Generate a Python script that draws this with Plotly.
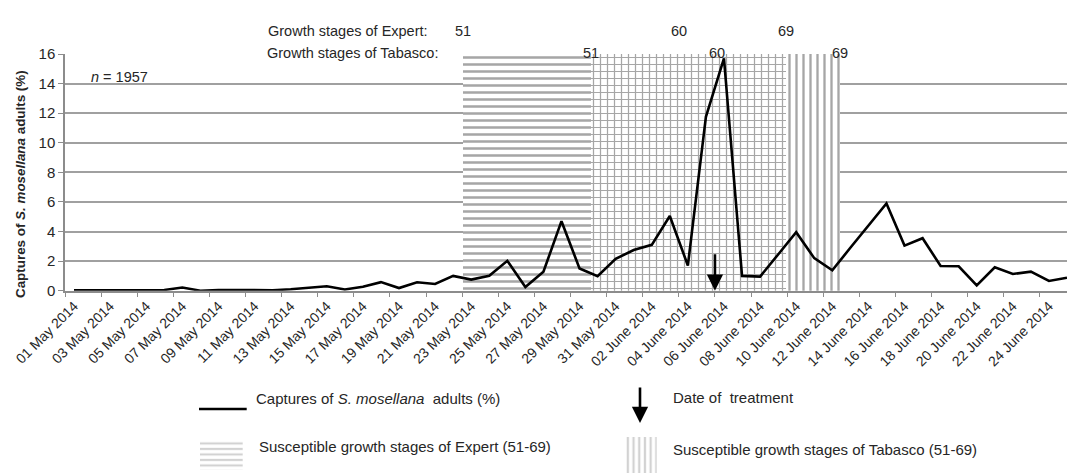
import pandas as pd
import plotly.graph_objects as go

# ---------------- data ----------------
days = pd.date_range("2014-05-01", "2014-06-25", freq="D")
day_labels = [d.strftime("%d %B %Y") for d in days]

captures = [0.02, 0.02, 0.02, 0.02, 0.03, 0.05, 0.22, 0.0, 0.05, 0.05,
            0.03, 0.03, 0.1, 0.2, 0.3, 0.08, 0.27, 0.58, 0.18, 0.57,
            0.45, 1.0, 0.75, 1.01, 2.02, 0.25, 1.28, 4.7, 1.5, 0.98,
            2.15, 2.75, 3.1, 5.05, 1.7, 11.75, 15.7, 1.0, 0.95, 2.45,
            3.95, 2.2, 1.38, 2.9, 4.4, 5.9, 3.05, 3.55, 1.67, 1.65,
            0.36, 1.58, 1.13, 1.29, 0.66, 0.88]

day_idx = list(range(len(days)))
tick_idx = day_idx[::2]
tick_text = day_labels[::2]

# growth-stage periods (positions in day index units)
stage_codes = ["51", "60", "69"]
expert_stage_pos = [21.55, 33.5, 39.45]
tabasco_stage_pos = [28.63, 35.6, 42.4]
expert_span = [expert_stage_pos[0], expert_stage_pos[-1]]
tabasco_span = [tabasco_stage_pos[0], tabasco_stage_pos[-1]]
treatment_day = 35.5
n_total = 1957
y_max = 16

# ---------------- layout helpers ----------------
W, H = 1067, 473
def px(x):
    return x / W
def py(y):
    return 1 - y / H

PLOT_L, PLOT_R, PLOT_T, PLOT_B = 65, 1067, 54, 290.7
TXT = "#262626"
GRID = "#a0a0a0"
HATCH = "#a6a6a6"
FONT = "Liberation Sans, Arial, sans-serif"
HDR = 14.5
LEG = 15

fig = go.Figure()

# hatched stage regions
regions = [
    (expert_span[0], tabasco_span[0], "-", 0.36),
    (tabasco_span[0], expert_span[1], "+", 0.32),
    (expert_span[1], tabasco_span[1], "|", 0.33),
]
for a, b, shp, sol in regions:
    fig.add_trace(go.Bar(
        x=[(a + b) / 2], y=[y_max], width=[b - a], base=0,
        marker=dict(color="white", line=dict(width=0),
                    pattern=dict(shape=shp, fgcolor=HATCH, bgcolor="white",
                                 size=7, solidity=sol, fillmode="replace")),
        xaxis="x", yaxis="y", showlegend=False, hoverinfo="skip"))

# capture line
fig.add_trace(go.Scatter(x=day_idx, y=captures, mode="lines",
                         line=dict(color="black", width=2.6),
                         showlegend=False, xaxis="x", yaxis="y"))

# legend swatches (pattern bars on small helper axes)
fig.add_trace(go.Bar(x=[0.5], y=[1], width=[1], base=0,
                     marker=dict(color="white", line=dict(width=0),
                                 pattern=dict(shape="-", fgcolor=HATCH, bgcolor="white",
                                              size=5.5, solidity=0.4)),
                     xaxis="x2", yaxis="y2", showlegend=False, hoverinfo="skip"))
fig.add_trace(go.Bar(x=[0.5], y=[1], width=[1], base=0,
                     marker=dict(color="white", line=dict(width=0),
                                 pattern=dict(shape="|", fgcolor=HATCH, bgcolor="white",
                                              size=5.7, solidity=0.4)),
                     xaxis="x3", yaxis="y3", showlegend=False, hoverinfo="skip"))

ann = []
# y axis title
ann.append(dict(x=px(21), y=py(184), xref="paper", yref="paper", showarrow=False,
                xanchor="center", yanchor="middle",
                text="<b>Captures of <i>S. mosellana</i> adults (%)</b>", textangle=-90,
                font=dict(size=13.4, color=TXT, family=FONT)))
# n label
ann.append(dict(x=px(89), y=py(67), xref="paper", yref="paper", showarrow=False,
                xanchor="left", text=f"<i>n</i> = {n_total}",
                font=dict(size=HDR, color=TXT, family=FONT)))
# growth stage header
ann.append(dict(x=px(266), y=py(20.7), xref="paper", yref="paper", showarrow=False,
                xanchor="left", text="Growth stages of Expert:",
                font=dict(size=HDR, color=TXT, family=FONT)))
ann.append(dict(x=px(265), y=py(43.3), xref="paper", yref="paper", showarrow=False,
                xanchor="left", text="Growth stages of Tabasco:",
                font=dict(size=HDR, color=TXT, family=FONT)))
for code, pos in zip(stage_codes, expert_stage_pos):
    ann.append(dict(x=pos, y=py(20.7), xref="x", yref="paper", showarrow=False,
                    text=code, font=dict(size=HDR, color=TXT, family=FONT)))
for code, pos in zip(stage_codes, tabasco_stage_pos):
    ann.append(dict(x=pos, y=py(43.3), xref="x", yref="paper", showarrow=False,
                    text=code, font=dict(size=HDR, color=TXT, family=FONT)))
# treatment arrow
ann.append(dict(x=treatment_day, y=0, xref="x", yref="y", ax=0, ay=-38,
                showarrow=True, arrowhead=2, arrowsize=1.25, arrowwidth=2.6,
                arrowcolor="black", text="", standoff=0))
# legend arrow
ann.append(dict(x=px(640), y=py(423), xref="paper", yref="paper", ax=0, ay=-37,
                showarrow=True, arrowhead=2, arrowsize=1.25, arrowwidth=2.6,
                arrowcolor="black", text="", standoff=0))
# legend texts
ann.append(dict(x=px(254), y=py(409), xref="paper", yref="paper", showarrow=False,
                xanchor="left", text="Captures of <i>S. mosellana</i>  adults (%)",
                font=dict(size=LEG, color=TXT, family=FONT)))
ann.append(dict(x=px(671), y=py(408), xref="paper", yref="paper", showarrow=False,
                xanchor="left", text="Date of  treatment",
                font=dict(size=LEG, color=TXT, family=FONT)))
ann.append(dict(x=px(257), y=py(457), xref="paper", yref="paper", showarrow=False,
                xanchor="left", text="Susceptible growth stages of Expert (51-69)",
                font=dict(size=LEG, color=TXT, family=FONT)))
ann.append(dict(x=px(671), y=py(460), xref="paper", yref="paper", showarrow=False,
                xanchor="left", text="Susceptible growth stages of Tabasco (51-69)",
                font=dict(size=LEG, color=TXT, family=FONT)))

shapes = [dict(type="line", xref="paper", yref="paper",
               x0=px(199), x1=px(246.7), y0=py(409), y1=py(409),
               line=dict(color="black", width=2.6))]

hidden = dict(visible=False, range=[0, 1], fixedrange=True, automargin=False)

fig.update_layout(
    width=W, height=H, autosize=False,
    margin=dict(l=0, r=0, t=0, b=0, pad=0, autoexpand=False),
    paper_bgcolor="white", plot_bgcolor="white",
    barmode="overlay", bargap=0,
    font=dict(family=FONT, color=TXT, size=13),
    xaxis=dict(domain=[px(PLOT_L), px(PLOT_R)], range=[-0.5, len(days) - 1],
               automargin=False,
               tickmode="array", tickvals=tick_idx, ticktext=tick_text,
               tickangle=-45, ticks="", showgrid=False, zeroline=False,
               showline=True, linecolor="#8c8c8c", linewidth=1.5,
               tickfont=dict(size=14, color=TXT, family=FONT),
               minor=dict(tickmode="array",
                          tickvals=[i - 0.5 for i in tick_idx],
                          ticks="outside", ticklen=5, tickcolor="#8c8c8c",
                          tickwidth=1, showgrid=False)),
    yaxis=dict(domain=[py(PLOT_B), py(PLOT_T)], range=[0, y_max], dtick=2,
               automargin=False,
               showgrid=True, gridcolor=GRID, gridwidth=1.5, zeroline=False,
               showline=True, linecolor="#8c8c8c", linewidth=1.5,
               ticks="outside", ticklen=5, tickcolor="#8c8c8c",
               tickfont=dict(size=15, color=TXT, family=FONT)),
    xaxis2=dict(domain=[px(200), px(242.7)], anchor="y2", **hidden),
    yaxis2=dict(domain=[py(470), py(440.7)], anchor="x2", **hidden),
    xaxis3=dict(domain=[px(625), px(656.7)], anchor="y3", **hidden),
    yaxis3=dict(domain=[py(473), py(436.7)], anchor="x3", **hidden),
    annotations=ann, shapes=shapes,
    showlegend=False,
)

fig.write_html("out.html")
